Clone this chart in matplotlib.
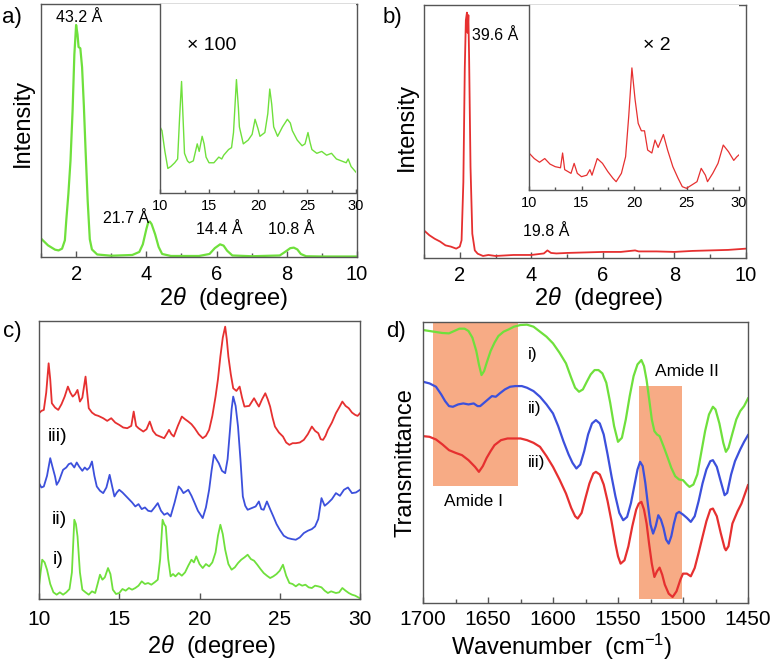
import matplotlib
matplotlib.use("Agg")
import matplotlib.pyplot as plt
from matplotlib.ticker import MultipleLocator, NullLocator
from matplotlib.patches import Rectangle

plt.rcParams['font.family'] = ['Liberation Sans', 'DejaVu Sans']
plt.rcParams['mathtext.fontset'] = 'custom'
plt.rcParams['mathtext.rm'] = 'Liberation Sans'
plt.rcParams['mathtext.it'] = 'Liberation Sans:italic'

GREEN = '#6fe03c'
RED = '#e63030'
BLUE = '#3c50dc'
ORANGE = '#f7ab85'
SPINE = '#555555'

# ---------------- panel a (main) ----------------
a_x = [1.0, 1.2, 1.4, 1.5, 1.6, 1.68, 1.72, 1.78, 1.84, 1.9, 1.95, 2.0, 2.04, 2.07, 2.12,
       2.17, 2.22, 2.27, 2.33, 2.39, 2.45, 2.6, 3.0, 3.6, 3.8, 3.9, 4.0, 4.05, 4.1, 4.15,
       4.25, 4.35, 4.45, 4.7, 5.5, 5.8, 5.95, 6.1, 6.2, 6.3, 6.45, 7.0, 7.8, 7.95, 8.1,
       8.2, 8.3, 8.4, 8.55, 9.0, 10.0]
a_y = [0.073, 0.046, 0.029, 0.026, 0.033, 0.066, 0.145, 0.25, 0.38, 0.58, 0.80, 0.917, 0.88,
       0.83, 0.825, 0.75, 0.60, 0.42, 0.22, 0.07, 0.03, 0.01, 0.005, 0.008, 0.02, 0.05, 0.11,
       0.135, 0.14, 0.13, 0.09, 0.04, 0.012, 0.004, 0.004, 0.012, 0.035, 0.05, 0.045, 0.025,
       0.006, 0.003, 0.006, 0.02, 0.035, 0.037, 0.03, 0.012, 0.003, 0.002, 0.002]

# ---------------- panel a (inset, x100) ----------------
ai_x = [10.0, 10.2, 10.5, 10.8, 11.1, 11.5, 11.8, 12.0, 12.2, 12.35, 12.5, 12.8, 13.0, 13.4,
        13.8, 14.0, 14.3, 14.5, 14.7, 15.0, 15.5, 16.0, 16.3, 16.5, 17.0, 17.3, 17.5, 17.8,
        18.0, 18.1, 18.5, 19.0, 19.4, 19.7, 20.0, 20.2, 20.7, 21.0, 21.2, 21.4, 21.6, 22.0,
        22.5, 23.0, 23.3, 23.5, 24.0, 24.5, 24.8, 25.1, 25.3, 25.5, 26.0, 26.5, 27.0, 27.5,
        28.0, 28.5, 29.0, 29.2, 29.5, 30.0]
ai_y = [0.35, 0.33, 0.22, 0.13, 0.14, 0.16, 0.18, 0.40, 0.59, 0.40, 0.21, 0.17, 0.16, 0.17,
        0.26, 0.22, 0.30, 0.26, 0.19, 0.16, 0.16, 0.19, 0.18, 0.20, 0.23, 0.24, 0.32, 0.60,
        0.45, 0.35, 0.26, 0.28, 0.31, 0.39, 0.34, 0.30, 0.32, 0.42, 0.55, 0.47, 0.35, 0.30,
        0.35, 0.39, 0.37, 0.33, 0.28, 0.25, 0.26, 0.32, 0.27, 0.23, 0.21, 0.22, 0.20, 0.21,
        0.18, 0.17, 0.16, 0.18, 0.14, 0.11]

# ---------------- panel b (main) ----------------
b_x = [1.0, 1.15, 1.3, 1.45, 1.6, 1.75, 1.9, 2.0, 2.05, 2.1, 2.14, 2.17, 2.2, 2.22, 2.24,
       2.26, 2.3, 2.35, 2.42, 2.5, 2.65, 2.8, 3.0, 3.5, 4.0, 4.35, 4.45, 4.55, 4.7, 5.0,
       5.5, 6.0, 6.5, 6.9, 7.0, 7.5, 8.0, 8.5, 9.0, 9.5, 10.0]
b_y = [0.109, 0.09, 0.076, 0.065, 0.05, 0.045, 0.037, 0.045, 0.07, 0.30, 0.75, 0.94, 0.97,
       0.89, 0.96, 0.80, 0.36, 0.096, 0.03, 0.017, 0.008, 0.012, 0.008, 0.012, 0.012, 0.018,
       0.03, 0.02, 0.018, 0.02, 0.022, 0.024, 0.024, 0.03, 0.026, 0.026, 0.024, 0.028, 0.03,
       0.032, 0.037]

# ---------------- panel b (inset, x2) ----------------
bi_x = [10.0, 10.5, 11.0, 11.5, 12.0, 12.5, 13.0, 13.2, 13.4, 14.0, 14.3, 14.6, 15.0, 15.5,
        15.8, 16.0, 16.5, 17.0, 17.5, 18.0, 18.3, 18.8, 19.2, 19.5, 19.8, 20.1, 20.4, 20.7,
        21.0, 21.3, 21.7, 22.0, 22.3, 22.8, 23.2, 23.7, 24.2, 24.6, 25.0, 25.5, 26.0, 26.4,
        26.8, 27.0, 27.5, 28.0, 28.5, 29.0, 29.5, 29.8, 30.0]
bi_y = [0.20, 0.17, 0.15, 0.17, 0.14, 0.126, 0.12, 0.20, 0.11, 0.09, 0.144, 0.09, 0.072,
        0.08, 0.11, 0.08, 0.17, 0.144, 0.10, 0.063, 0.045, 0.09, 0.18, 0.40, 0.66, 0.49,
        0.36, 0.32, 0.32, 0.216, 0.20, 0.27, 0.23, 0.30, 0.216, 0.126, 0.063, 0.018, 0.009,
        0.027, 0.045, 0.117, 0.08, 0.045, 0.09, 0.144, 0.243, 0.207, 0.16, 0.18, 0.19]

# ---------------- panel c ----------------
c_x_i = [10.0, 10.1, 10.2, 10.35, 10.5, 10.7, 10.9, 11.1, 11.3, 11.5, 11.7, 11.9, 12.05, 12.2,
         12.3, 12.4, 12.55, 12.7, 12.9, 13.1, 13.3, 13.5, 13.65, 13.8, 13.95, 14.1, 14.3,
         14.45, 14.6, 14.8, 15.0, 15.2, 15.4, 15.6, 15.8, 16.0, 16.2, 16.4, 16.6, 16.8, 17.0,
         17.2, 17.4, 17.55, 17.7, 17.8, 17.9, 18.05, 18.2, 18.35, 18.5, 18.7, 18.9, 19.1, 19.3,
         19.5, 19.65, 19.8, 20.0, 20.2, 20.4, 20.6, 20.8, 21.0, 21.15, 21.3, 21.45, 21.6, 21.8,
         22.0, 22.2, 22.4, 22.6, 22.8, 23.0, 23.2, 23.4, 23.6, 23.8, 24.0, 24.2, 24.4, 24.6,
         24.8, 25.0, 25.2, 25.4, 25.6, 25.8, 26.0, 26.2, 26.4, 26.6, 26.8, 27.0, 27.2, 27.4,
         27.6, 27.8, 28.0, 28.2, 28.5, 28.7, 28.9, 29.1, 29.3, 29.5, 29.7, 30.0]
c_y_i = [3.8, 8.0, 11.8, 11.0, 8.8, 4.5, 2.0, 1.3, 2.0, 1.3, 2.0, 3.0, 8.0, 23.8, 22.5, 18.8,
         8.0, 2.8, 2.0, 1.3, 2.3, 1.8, 4.5, 7.3, 5.8, 6.5, 9.3, 7.5, 2.8, 1.5, 1.8, 3.0, 2.5,
         3.3, 2.8, 3.3, 4.0, 5.3, 4.5, 4.8, 4.3, 5.0, 5.8, 12.0, 23.8, 22.5, 21.8, 12.0, 6.8,
         7.5, 6.8, 7.8, 7.0, 8.0, 10.0, 11.8, 11.0, 12.8, 10.5, 9.3, 10.5, 9.8, 11.0, 14.0,
         19.0, 22.3, 19.5, 14.8, 10.5, 8.8, 9.5, 10.8, 11.8, 12.5, 13.3, 12.0, 11.5, 10.3,
         9.0, 7.8, 7.0, 6.3, 6.8, 7.5, 8.5, 10.3, 7.0, 4.8, 4.5, 3.8, 4.5, 4.0, 4.3, 3.5, 3.3,
         4.0, 3.8, 3.5, 2.5, 1.8, 2.3, 1.8, 2.0, 3.3, 2.5, 1.8, 1.3, 1.0, 0.2]
c_x_ii = [10.0, 10.15, 10.3, 10.5, 10.7, 10.85, 11.0, 11.1, 11.25, 11.4, 11.5, 11.7, 11.85,
          12.0, 12.2, 12.35, 12.5, 12.7, 12.85, 13.0, 13.15, 13.3, 13.45, 13.6, 13.8, 14.0,
          14.2, 14.4, 14.55, 14.7, 14.85, 15.0, 15.2, 15.4, 15.6, 15.8, 16.0, 16.2, 16.4,
          16.6, 16.8, 17.0, 17.2, 17.4, 17.6, 17.8, 18.0, 18.2, 18.45, 18.7, 18.85, 19.0,
          19.15, 19.3, 19.5, 19.7, 19.9, 20.2, 20.4, 20.6, 20.75, 20.9, 21.05, 21.2, 21.4,
          21.6, 21.75, 21.9, 22.0, 22.1, 22.25, 22.4, 22.55, 22.7, 22.85, 23.0, 23.25, 23.5,
          23.7, 23.85, 24.0, 24.2, 24.4, 24.6, 24.8, 25.0, 25.25, 25.5, 25.75, 26.0, 26.25,
          26.5, 26.75, 27.0, 27.2, 27.4, 27.6, 27.8, 28.0, 28.25, 28.5, 28.75, 29.0, 29.25,
          29.5, 29.75, 30.0]
c_y_ii = [34.8, 33.5, 33.8, 37.0, 42.3, 39.5, 36.8, 34.3, 35.5, 37.5, 38.8, 39.5, 40.5, 40.8,
          39.5, 41.0, 39.8, 38.5, 39.5, 38.8, 39.5, 41.3, 37.0, 33.8, 32.5, 31.8, 33.5, 37.3,
          34.0, 30.8, 32.0, 32.8, 32.0, 31.0, 30.0, 29.0, 27.8, 28.5, 27.0, 27.5, 26.5, 26.3,
          27.5, 28.8, 26.5, 25.3, 25.8, 24.8, 29.0, 33.8, 33.0, 31.8, 32.3, 32.8, 31.0, 28.8,
          26.5, 24.3, 27.5, 32.8, 38.5, 43.3, 42.0, 40.8, 38.5, 37.8, 42.0, 50.8, 57.0, 60.8,
          58.0, 51.8, 42.0, 30.8, 28.0, 26.8, 27.3, 27.8, 29.3, 27.0, 26.8, 29.3, 27.0, 24.8,
          22.5, 20.8, 19.0, 18.3, 18.0, 17.8, 18.5, 19.8, 20.5, 21.0, 21.8, 24.0, 30.3, 28.0,
          28.8, 30.0, 31.8, 31.0, 32.8, 33.5, 31.8, 32.0, 32.8]
c_x_iii = [10.0, 10.15, 10.3, 10.45, 10.6, 10.7, 10.8, 11.0, 11.2, 11.4, 11.6, 11.8, 11.95,
           12.1, 12.25, 12.4, 12.55, 12.7, 12.9, 13.0, 13.1, 13.3, 13.5, 13.7, 14.0, 14.25,
           14.5, 14.75, 15.0, 15.25, 15.5, 15.75, 15.9, 16.05, 16.2, 16.5, 16.7, 16.9, 17.1,
           17.3, 17.55, 17.8, 17.95, 18.1, 18.25, 18.4, 18.65, 18.9, 19.1, 19.3, 19.5, 19.7,
           19.95, 20.2, 20.4, 20.6, 20.8, 21.0, 21.15, 21.3, 21.45, 21.6, 21.7, 21.8, 21.95,
           22.1, 22.3, 22.5, 22.65, 22.8, 23.1, 23.4, 23.55, 23.7, 23.9, 24.1, 24.25, 24.4,
           24.55, 24.7, 24.95, 25.2, 25.4, 25.6, 25.8, 26.0, 26.25, 26.5, 26.75, 27.0, 27.2,
           27.4, 27.55, 27.7, 27.85, 28.0, 28.25, 28.5, 28.7, 28.9, 29.1, 29.3, 29.5, 29.7,
           29.85, 30.0]
c_y_iii = [55.8, 56.5, 56.8, 62.0, 70.8, 66.0, 58.8, 57.5, 56.8, 58.5, 60.8, 63.8, 62.0, 60.8,
           61.5, 62.8, 59.3, 60.5, 66.8, 62.0, 57.3, 56.0, 55.3, 55.0, 54.3, 53.5, 54.3, 53.0,
           52.3, 51.5, 51.3, 52.0, 56.3, 52.0, 51.3, 50.3, 51.0, 53.3, 50.5, 49.3, 48.8, 48.3,
           49.5, 50.8, 49.5, 48.8, 52.0, 54.8, 54.0, 53.3, 52.5, 51.3, 49.5, 48.3, 49.0, 50.8,
           55.0, 60.8, 66.0, 72.8, 78.5, 81.8, 78.0, 72.8, 67.5, 63.3, 62.5, 63.8, 60.5, 57.8,
           58.0, 60.3, 59.0, 57.8, 60.0, 61.8, 60.0, 57.8, 54.5, 51.8, 50.0, 48.8, 47.0, 46.3,
           46.8, 46.8, 47.0, 47.8, 49.5, 51.8, 50.5, 49.8, 48.0, 47.8, 49.0, 50.8, 53.0, 55.8,
           57.5, 59.3, 58.0, 57.3, 56.0, 55.3, 55.0, 55.8]

# ---------------- panel d ----------------
d_x_i = [1700, 1695, 1690, 1685, 1680, 1676, 1672, 1668, 1665, 1662, 1659, 1657, 1655, 1653,
         1651, 1648, 1645, 1642, 1638, 1634, 1630, 1625, 1620, 1615, 1610, 1605, 1600, 1595,
         1590, 1586, 1583, 1580, 1577, 1574, 1571, 1568, 1565, 1562, 1559, 1556, 1553, 1550,
         1547, 1544, 1541, 1538, 1535, 1532, 1530, 1528, 1526, 1524, 1522, 1520, 1518, 1515,
         1512, 1509, 1506, 1503, 1500, 1497, 1495, 1492, 1489, 1486, 1483, 1480, 1477, 1475,
         1472, 1469, 1467, 1465, 1462, 1459, 1456, 1453, 1450]
d_y_i = [81.8, 81.5, 81.2, 80.9, 80.8, 81.5, 82.2, 82.2, 81.5, 79.5, 75.5, 71.5, 68.3, 69.5,
         72.0, 75.5, 78.0, 80.0, 81.3, 82.0, 82.8, 83.3, 83.4, 82.8, 81.3, 79.8, 77.8, 75.0,
         71.8, 67.5, 64.5, 63.3, 64.0, 66.3, 68.5, 69.8, 69.8, 68.8, 66.0, 60.0, 53.0, 48.3,
         49.5, 55.0, 62.0, 68.0, 71.5, 72.8, 71.0, 66.8, 61.0, 55.0, 51.5, 50.5, 50.0, 47.0,
         43.8, 40.5, 38.0, 37.0, 36.8, 35.5, 34.8, 35.5, 38.5, 45.0, 51.5, 56.5, 58.8, 58.0,
         53.8, 48.0, 45.3, 46.5, 50.8, 55.0, 57.5, 59.0, 61.3]
d_x_ii = [1700, 1695, 1690, 1686, 1683, 1680, 1677, 1673, 1669, 1665, 1661, 1658, 1656, 1653,
          1650, 1647, 1644, 1641, 1637, 1633, 1629, 1624, 1620, 1615, 1610, 1605, 1600, 1596,
          1592, 1588, 1585, 1582, 1579, 1576, 1573, 1570, 1567, 1564, 1561, 1558, 1555, 1552,
          1549, 1546, 1543, 1540, 1537, 1535, 1533, 1531, 1529, 1527, 1525, 1523, 1521, 1519,
          1517, 1515, 1513, 1511, 1509, 1507, 1505, 1503, 1500, 1497, 1494, 1491, 1488, 1485,
          1482, 1479, 1477, 1474, 1471, 1468, 1466, 1463, 1460, 1456, 1453, 1450]
d_y_ii = [66.3, 65.8, 64.8, 62.5, 60.5, 59.0, 58.8, 59.5, 59.8, 59.5, 59.8, 59.0, 59.0, 60.0,
          61.0, 62.0, 61.8, 62.8, 64.0, 64.8, 65.0, 65.0, 64.5, 63.5, 61.8, 59.5, 56.8, 53.0,
          48.5, 44.5, 42.0, 40.3, 41.5, 45.5, 50.5, 53.8, 54.8, 53.8, 50.5, 44.5, 38.0, 32.0,
          27.0, 24.8, 25.8, 30.0, 36.0, 40.0, 42.3, 41.0, 36.0, 29.5, 23.5, 20.8, 23.0, 26.3,
          25.0, 22.5, 19.0, 17.8, 20.0, 23.8, 26.8, 27.3, 26.5, 25.5, 24.3, 26.0, 30.5, 35.8,
          40.0, 42.5, 42.8, 40.8, 36.5, 32.3, 33.0, 38.5, 42.5, 46.0, 48.3, 50.3]
d_x_iii = [1700, 1695, 1690, 1685, 1680, 1675, 1670, 1665, 1660, 1657, 1654, 1651, 1648, 1645,
           1640, 1635, 1630, 1625, 1620, 1615, 1610, 1605, 1600, 1595, 1590, 1586, 1583, 1581,
           1578, 1575, 1572, 1569, 1567, 1564, 1561, 1558, 1555, 1552, 1550, 1548, 1545, 1542,
           1539, 1536, 1534, 1532, 1530, 1528, 1526, 1524, 1522, 1520, 1518, 1516, 1514, 1511,
           1508, 1505, 1502, 1500, 1497, 1494, 1491, 1488, 1485, 1482, 1479, 1477, 1474, 1471,
           1468, 1467, 1465, 1462, 1458, 1455, 1450]
d_y_iii = [50.0, 49.8, 49.0, 47.5, 45.8, 45.0, 44.3, 42.8, 40.8, 39.3, 41.0, 43.5, 45.5, 47.3,
           48.8, 49.3, 49.3, 49.3, 48.8, 48.0, 46.8, 44.0, 40.8, 37.0, 32.8, 28.5, 26.0, 25.3,
           27.0, 31.5, 35.8, 38.8, 39.3, 38.5, 35.5, 30.5, 24.5, 17.8, 14.0, 11.8, 12.8, 17.0,
           23.0, 28.0, 29.8, 30.3, 28.0, 23.8, 17.5, 11.8, 7.8, 9.5, 10.6, 8.5, 5.5, 2.8, 1.8,
           3.5, 7.0, 8.8, 8.8, 8.0, 10.5, 15.0, 19.8, 24.5, 28.0, 28.3, 26.0, 21.0, 16.5, 15.8,
           17.0, 23.8, 27.5, 29.8, 35.3]

amide1 = (1692, 1627, 35.0)   # x-start, x-end, lower y (to top)
amide2 = (1533.5, 1501, 1.3, 65.0)

W, H = 773, 662
fig = plt.figure(figsize=(W / 100, H / 100), dpi=100)


def rect(l, r, t, b):
    return [l / W, 1 - b / H, (r - l) / W, (b - t) / H]


def style(ax, size, pad, major, minor=None, length=4):
    for s in ax.spines.values():
        s.set_color(SPINE)
        s.set_linewidth(1.0)
    ax.xaxis.set_major_locator(MultipleLocator(major))
    if minor:
        ax.xaxis.set_minor_locator(MultipleLocator(minor))
    ax.yaxis.set_major_locator(NullLocator())
    ax.tick_params(axis='x', which='both', direction='in', color=SPINE, width=1,
                   labelsize=size, pad=pad, top=False)
    ax.tick_params(axis='x', which='major', length=length)
    ax.tick_params(axis='x', which='minor', length=length * 0.75)


# panel a
ax = fig.add_axes(rect(41, 357, 4, 257))
ax.plot(a_x, a_y, color=GREEN, lw=1.6)
ax.set_xlim(1, 10)
ax.set_ylim(0, 1)
style(ax, 14.5, 6, 2, 1)
ax.text(2.08, 0.945, '43.2 Å', fontsize=11.5, ha='center', va='center')
ax.text(3.42, 0.154, '21.7 Å', fontsize=11.5, ha='center', va='center')
ax.text(6.07, 0.107, '14.4 Å', fontsize=11.5, ha='center', va='center')
ax.text(8.12, 0.107, '10.8 Å', fontsize=11.5, ha='center', va='center')

axi = fig.add_axes(rect(160, 356, 4, 193))
axi.plot(ai_x, ai_y, color=GREEN, lw=1.0)
axi.set_xlim(10, 30)
axi.set_ylim(0, 1)
style(axi, 10.5, 4, 5, 2.5, length=3)
axi.spines['top'].set_visible(False)
axi.spines['right'].set_visible(False)
axi.text(0.265, 0.78, '× 100', transform=axi.transAxes, fontsize=14, ha='center', va='center')

# panel b
bx = fig.add_axes(rect(424, 746, 5, 258))
bx.plot(b_x, b_y, color=RED, lw=1.3)
bx.set_xlim(1, 10)
bx.set_ylim(0, 1)
style(bx, 14.5, 6, 2, 1)
bx.text(2.34, 0.88, '39.6 Å', fontsize=11.5, ha='left', va='center')
bx.text(3.77, 0.103, '19.8 Å', fontsize=11.5, ha='left', va='center')

bxi = fig.add_axes(rect(529, 739, 5, 190))
bxi.plot(bi_x, bi_y, color=RED, lw=0.9)
bxi.set_xlim(10, 30)
bxi.set_ylim(0, 1)
style(bxi, 10.5, 4, 5, 2.5, length=3)
bxi.spines['top'].set_visible(False)
bxi.spines['right'].set_visible(False)
bxi.text(0.61, 0.78, '× 2', transform=bxi.transAxes, fontsize=14, ha='center', va='center')

# panel c
cx = fig.add_axes(rect(39, 360, 321, 599))
cx.plot(c_x_i, c_y_i, color=GREEN, lw=1.3)
cx.plot(c_x_ii, c_y_ii, color=BLUE, lw=1.3)
cx.plot(c_x_iii, c_y_iii, color=RED, lw=1.3)
cx.set_xlim(10, 30)
cx.set_ylim(0, 83.5)
style(cx, 15, 8, 5)
cx.text(11.15, 48.8, 'iii)', fontsize=14, ha='center', va='center')
cx.text(11.3, 23.8, 'ii)', fontsize=14, ha='center', va='center')
cx.text(11.2, 12.0, 'i)', fontsize=14, ha='center', va='center')

# panel d
dx = fig.add_axes(rect(423, 748, 322, 603))
dx.add_patch(Rectangle((amide1[0], amide1[2]), amide1[1] - amide1[0], 84.2 - amide1[2],
                       facecolor=ORANGE, edgecolor='none', zorder=0))
dx.add_patch(Rectangle((amide2[0], amide2[2]), amide2[1] - amide2[0], amide2[3] - amide2[2],
                       facecolor=ORANGE, edgecolor='none', zorder=0))
dx.plot(d_x_i, d_y_i, color=GREEN, lw=1.6)
dx.plot(d_x_ii, d_y_ii, color=BLUE, lw=1.6)
dx.plot(d_x_iii, d_y_iii, color=RED, lw=1.6)
dx.set_xlim(1700, 1450)
dx.set_ylim(0, 84.2)
style(dx, 15, 5, 50, 25)
dx.text(1619, 74.5, 'i)', fontsize=12.5, ha='left', va='center')
dx.text(1619, 58.3, 'ii)', fontsize=12.5, ha='left', va='center')
dx.text(1619, 42.0, 'iii)', fontsize=12.5, ha='left', va='center')
dx.text(1497, 69.3, 'Amide II', fontsize=12.5, ha='center', va='center')
dx.text(1661, 30.3, 'Amide I', fontsize=12.5, ha='center', va='center')

# axis labels and panel letters
lab = 17
fig.text(224 / W, 1 - 299 / H, r'2$\theta$  (degree)', fontsize=lab, ha='center', va='center')
fig.text(599 / W, 1 - 299 / H, r'2$\theta$  (degree)', fontsize=lab, ha='center', va='center')
fig.text(212 / W, 1 - 646 / H, r'2$\theta$  (degree)', fontsize=lab, ha='center', va='center')
fig.text(562 / W, 1 - 647 / H, r'Wavenumber  (cm$^{-1}$)', fontsize=lab, ha='center', va='center')
fig.text(23 / W, 1 - 123 / H, 'Intensity', fontsize=lab, ha='center', va='center', rotation=90)
fig.text(407 / W, 1 - 127 / H, 'Intensity', fontsize=lab, ha='center', va='center', rotation=90)
fig.text(406 / W, 1 - 463 / H, 'Transmittance', fontsize=lab, ha='center', va='center', rotation=90)

fig.text(12 / W, 1 - 18 / H, 'a)', fontsize=16, ha='center', va='center')
fig.text(392 / W, 1 - 18 / H, 'b)', fontsize=16, ha='center', va='center')
fig.text(12 / W, 1 - 331 / H, 'c)', fontsize=16, ha='center', va='center')
fig.text(396 / W, 1 - 331 / H, 'd)', fontsize=16, ha='center', va='center')

fig.savefig('out.png', dpi=100)
